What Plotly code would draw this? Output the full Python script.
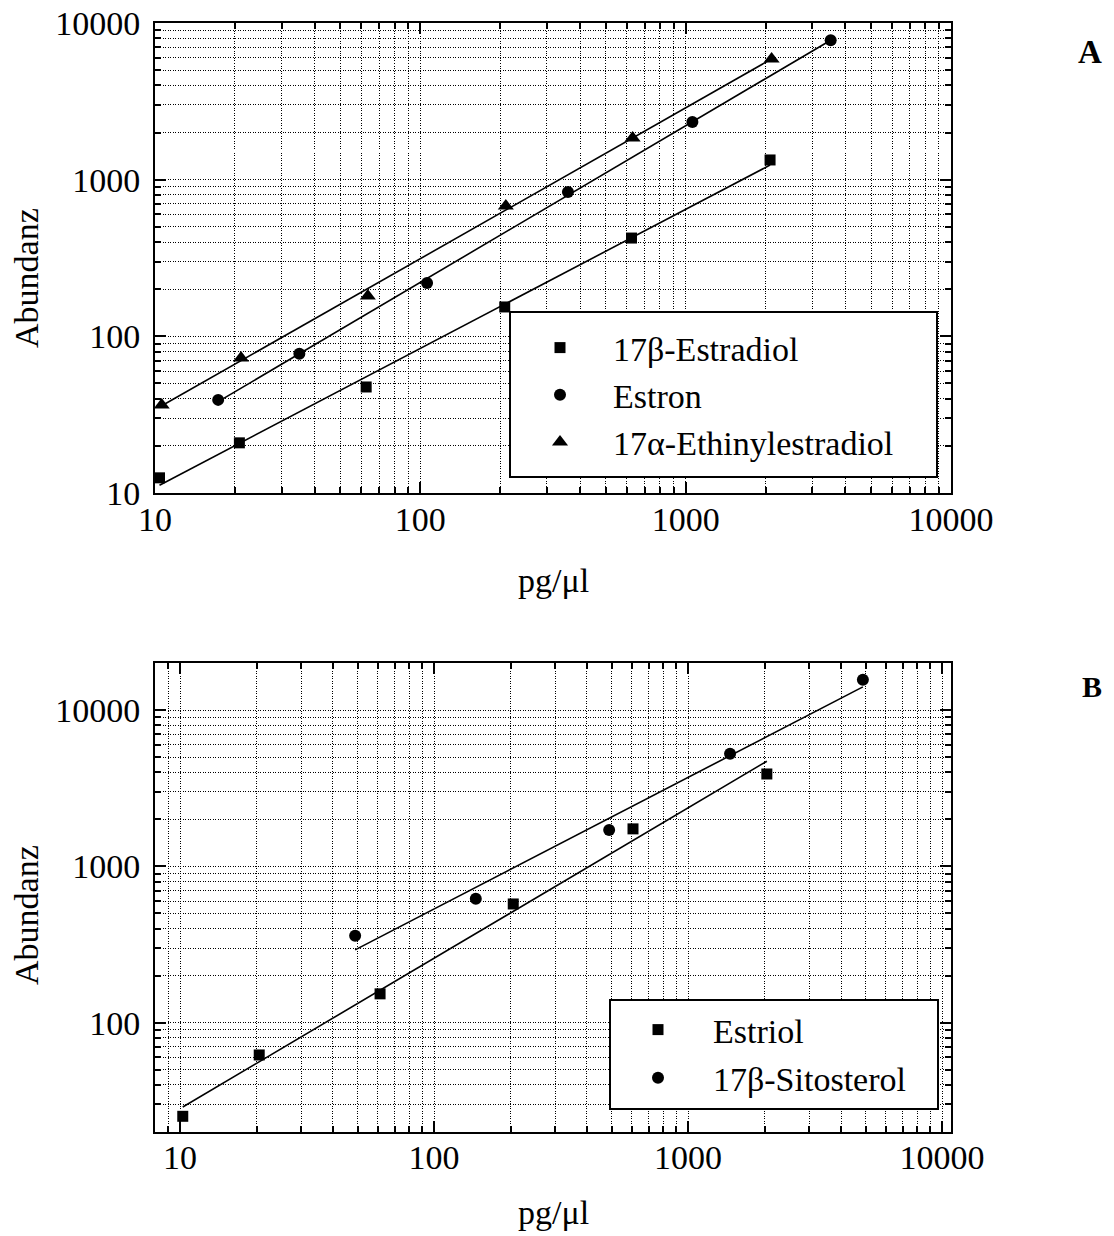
import numpy as np
import plotly.graph_objects as go

# ---- Panel A data (pg/µl vs. abundance) ----
estradiol_x = [10.4, 20.8, 62.5, 208, 625, 2080]
estradiol_y = [12.5, 20.9, 47.5, 154, 424, 1336]

estron_x = [17.3, 35.0, 106, 360, 1060, 3520]
estron_y = [39.3, 77.3, 219, 834, 2335, 7750]

ethinyl_x = [10.6, 21.1, 63.4, 210, 631, 2108]
ethinyl_y = [36.5, 72.8, 181, 679, 1845, 5890]

# ---- Panel B data ----
estriol_x = [10.25, 20.5, 61.3, 205, 607, 2042]
estriol_y = [25.2, 62.2, 153, 575, 1738, 3900]

sitosterol_x = [48.9, 146, 489, 1463, 4877]
sitosterol_y = [360, 620, 1711, 5260, 15630]

# Decade tick labels
decade_vals = [10, 100, 1000, 10000]
decade_text = ["10", "100", "1000", "10000"]

W, H = 1114, 1236
SERIF = "Liberation Serif"


def fx(p):
    return p / W


def fy(p):
    return 1 - p / H


def fit_line(x, y):
    """Least-squares power-law fit (straight line in log-log)."""
    lx, ly = np.log10(x), np.log10(y)
    k, b = np.polyfit(lx, ly, 1)
    xs = np.array([min(x), max(x)], dtype=float)
    return xs, 10 ** (k * np.log10(xs) + b)


fig = go.Figure()


def add_series(x, y, name, symbol, size, xa, ya, legend):
    xs, ys = fit_line(x, y)
    fig.add_trace(go.Scatter(x=xs, y=ys, mode="lines", line=dict(color="black", width=1.6),
                             showlegend=False, xaxis=xa, yaxis=ya, hoverinfo="skip"))
    fig.add_trace(go.Scatter(x=x, y=y, mode="markers", name=name,
                             marker=dict(symbol=symbol, size=size, color="black"),
                             xaxis=xa, yaxis=ya, legend=legend, legendgroup=name))


add_series(estradiol_x, estradiol_y, "17β-Estradiol", "square", 11, "x", "y", "legend")
add_series(estron_x, estron_y, "Estron", "circle", 12, "x", "y", "legend")
add_series(ethinyl_x, ethinyl_y, "17α-Ethinylestradiol", "triangle-up", 14, "x", "y", "legend")
add_series(estriol_x, estriol_y, "Estriol", "square", 11, "x2", "y2", "legend2")
add_series(sitosterol_x, sitosterol_y, "17β-Sitosterol", "circle", 12, "x2", "y2", "legend2")

GRID_DASH = "1px,1.5px"
# minor ticks at 2..9 of every decade
minor_vals = [m * 10 ** e for e in range(0, 5) for m in range(2, 10)]


def log_axis(rng, domain, anchor, standoff):
    return dict(
        type="log", range=rng, domain=domain, anchor=anchor, automargin=False,
        tickmode="array", tickvals=decade_vals, ticktext=decade_text,
        showline=True, linecolor="black", linewidth=2, mirror="allticks",
        ticks="inside", ticklen=11, tickwidth=1.5, tickcolor="black",
        showgrid=True, gridcolor="#000", gridwidth=1, griddash=GRID_DASH,
        minor=dict(tickmode="array", tickvals=minor_vals,
                   ticks="inside", ticklen=6, tickwidth=1.5, tickcolor="black",
                   showgrid=True, gridcolor="#000", gridwidth=1, griddash=GRID_DASH),
        tickfont=dict(family=SERIF, size=34, color="black"),
        ticklabelstandoff=standoff,
        zeroline=False, fixedrange=True,
    )


xdom = [fx(155), fx(951)]
fig.update_layout(
    width=W, height=H,
    margin=dict(l=0, r=0, t=0, b=0, autoexpand=False),
    paper_bgcolor="white", plot_bgcolor="white",
    xaxis=log_axis([1, 4], xdom, "y", -5),
    yaxis=log_axis([1, 4], [fy(493), fy(23)], "x", 6),
    xaxis2=log_axis([np.log10(7.97), np.log10(10840)], xdom, "y2", -6),
    yaxis2=log_axis([np.log10(20), np.log10(20000)], [fy(1132), fy(663)], "x2", 6),
    legend=dict(x=fx(507), y=fy(319), xanchor="left", yanchor="top",
                bgcolor="rgba(0,0,0,0)", borderwidth=0, itemwidth=96,
                tracegroupgap=0, font=dict(family=SERIF, size=34, color="black")),
    legend2=dict(x=fx(603), y=fy(1001), xanchor="left", yanchor="top",
                 bgcolor="rgba(0,0,0,0)", borderwidth=0, itemwidth=100,
                 tracegroupgap=1, font=dict(family=SERIF, size=34, color="black")),
    showlegend=True,
)

# Legend frames (white box with black border)
for x0, y0, x1, y1 in [(510, 312, 937, 477), (610, 1000, 938, 1109)]:
    fig.add_shape(type="rect", xref="paper", yref="paper",
                  x0=fx(x0), x1=fx(x1), y0=fy(y1), y1=fy(y0),
                  line=dict(color="black", width=2), fillcolor="white", layer="above")

# Axis titles and panel letters
title_font = dict(family=SERIF, size=34, color="black")
annotations = [
    dict(text="Abundanz", x=fx(26), y=fy(278), textangle=-90, font=title_font),
    dict(text="pg/μl", x=fx(553), y=fy(580), font=title_font),
    dict(text="Abundanz", x=fx(26), y=fy(915), textangle=-90, font=title_font),
    dict(text="pg/μl", x=fx(553), y=fy(1212), font=title_font),
    dict(text="<b>A</b>", x=fx(1090), y=fy(52), font=dict(family=SERIF, size=33, color="black")),
    dict(text="<b>B</b>", x=fx(1092), y=fy(686), font=dict(family=SERIF, size=30, color="black")),
]
for a in annotations:
    fig.add_annotation(xref="paper", yref="paper", showarrow=False,
                       xanchor="center", yanchor="middle", **a)

fig.write_html("out.html")
